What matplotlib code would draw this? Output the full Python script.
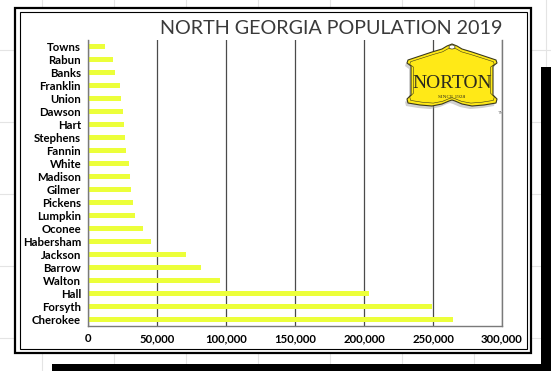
import matplotlib.pyplot as plt
from matplotlib.patches import Polygon, Rectangle, Ellipse
from matplotlib.ticker import FuncFormatter

# county populations, smallest at the top
counties = ['Towns', 'Rabun', 'Banks', 'Franklin', 'Union', 'Dawson', 'Hart',
            'Stephens', 'Fannin', 'White', 'Madison', 'Gilmer', 'Pickens',
            'Lumpkin', 'Oconee', 'Habersham', 'Jackson', 'Barrow', 'Walton',
            'Hall', 'Forsyth', 'Cherokee']
population = [12300, 17900, 19600, 23400, 24100, 25600, 26100, 27000, 27500,
              29700, 30400, 31400, 32400, 34100, 39600, 45700, 70800, 81900,
              95700, 203400, 249000, 264500]
x_ticks = [0, 50000, 100000, 150000, 200000, 250000, 300000]
title = 'NORTH GEORGIA POPULATION 2019'

W, H = 551, 371
fig = plt.figure(figsize=(W / 100, H / 100), dpi=100)


def px_axes(zorder):
    a = fig.add_axes([0, 0, 1, 1], zorder=zorder)
    a.set_xlim(0, W)
    a.set_ylim(H, 0)
    a.axis('off')
    a.patch.set_alpha(0)
    return a


# sheet background, shadow and double frame
bg = px_axes(0)
for gx in range(42, W, 72):
    bg.axvline(gx, color='#e4e4e4', lw=0.8, zorder=1)
for gy in range(50, H, 72):
    bg.axhline(gy, color='#e4e4e4', lw=0.8, zorder=1)
bg.add_patch(Rectangle((541, 67), 12, 310, color='black', lw=0, zorder=3))
bg.add_patch(Rectangle((52, 364), 502, 10, color='black', lw=0, zorder=3))
bg.add_patch(Rectangle((15, 8), 516, 345, facecolor='white',
                       edgecolor='black', lw=1.6, zorder=3))
bg.add_patch(Rectangle((19.5, 12), 507, 337, facecolor='none',
                       edgecolor='black', lw=0.8, zorder=4))

# bar chart
ax = fig.add_axes([88 / W, (H - 326) / H, 414 / W, 286 / H], zorder=1)
ax.barh(range(len(counties)), population, height=0.38, color='#ecff3a')
ax.set_ylim(len(counties) - 0.5, -0.5)
ax.set_xlim(0, 300000)
ax.set_yticks(range(len(counties)))
ax.set_yticklabels(counties)
ax.set_xticks(x_ticks)
ax.xaxis.set_major_formatter(FuncFormatter(lambda v, p: f'{int(v):,}'))
ax.tick_params(length=0, labelsize=8.2, pad=5)
for lbl in ax.get_xticklabels() + ax.get_yticklabels():
    lbl.set_fontfamily('Lato')
    lbl.set_fontweight('bold')
ax.grid(axis='x', color='#4a4a4a', lw=0.9)
ax.set_axisbelow(True)
ax.spines['top'].set_visible(False)
for side in ['left', 'right', 'bottom']:
    ax.spines[side].set_color('#7a7a7a')
    ax.spines[side].set_linewidth(1.0)

fig.text(503 / W, 1 - 34 / H, title, ha='right', va='baseline',
         fontsize=14.2, family='Lato', color='#3a3a3a')

# Norton badge
fg = px_axes(2)
badge = [(408, 60), (420, 56), (432, 52), (442, 49), (447, 46), (452, 44),
         (457, 46), (462, 49), (472, 52), (484, 56), (496, 60),
         (497, 63), (493, 66), (493, 95), (497, 99), (496, 103),
         (484, 105), (472, 106), (462, 104), (455, 101), (452, 100),
         (449, 101), (442, 104), (432, 106), (420, 105), (408, 103),
         (407, 99), (411, 95), (411, 66), (407, 63)]
fg.add_patch(Polygon([(x - 2, y + 3) for x, y in badge], closed=True,
                     color='#9a9a9a', alpha=0.45, lw=0))
fg.add_patch(Polygon(badge, closed=True, facecolor='#ffe917',
                     edgecolor='#3c3a1c', lw=0.8))
inner = [(452 + (x - 452) * 0.94, 77 + (y - 77) * 0.9) for x, y in badge]
fg.add_patch(Polygon(inner, closed=True, facecolor='none',
                     edgecolor='#3c3a1c', lw=0.4))
fg.add_patch(Ellipse((452, 47), 6, 4, facecolor='white',
                     edgecolor='#3c3a1c', lw=0.5))
fg.text(452, 84, 'NORTON', ha='center', va='center', fontsize=14,
        family='Liberation Serif', color='#2a2a1e')
fg.text(452, 97, 'SINCE 1928', ha='center', va='center', fontsize=3.8,
        family='Liberation Serif', color='#2a2a1e')
fg.text(500, 113, 'TM', ha='center', va='center', fontsize=3.2,
        color='#888888')

fig.savefig('out.png', dpi=100)
